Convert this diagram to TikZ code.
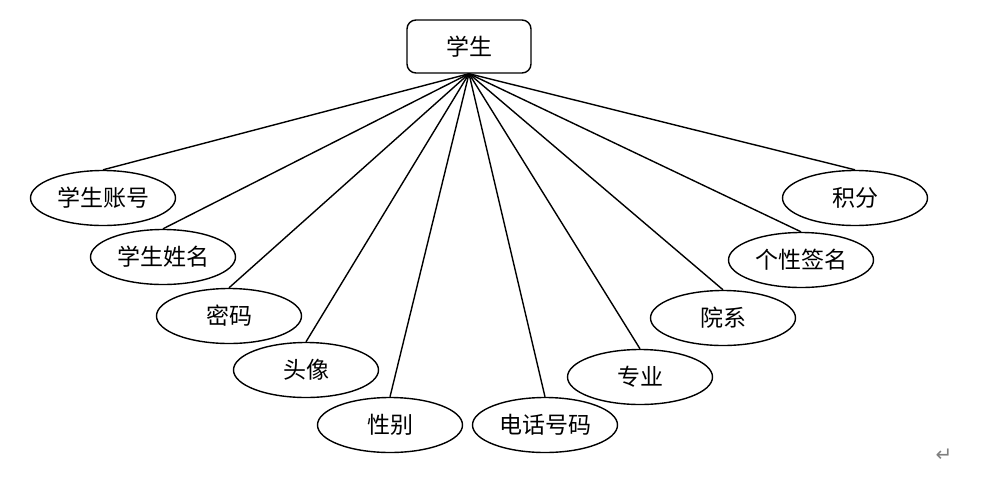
\documentclass[tikz,border=0pt]{standalone}
\usepackage{fontspec}
\newfontfamily\cjk{Noto Sans CJK SC}
\newfontfamily\symfont{DejaVu Sans}
\usetikzlibrary{shapes.geometric}
\begin{document}
\begin{tikzpicture}[x=1pt,y=-1pt,line width=1.4pt,
  entity/.style={draw,rounded corners=9pt,minimum width=124pt,minimum height=53pt,
    font=\cjk\fontsize{23}{23}\selectfont},
  attr/.style={draw,ellipse,minimum width=145pt,minimum height=55pt,inner sep=0pt,
    font=\cjk\fontsize{23}{23}\selectfont}]
  \useasboundingbox (0,0) rectangle (990,491);
  \node[entity] (stu) at (469,46.5) {学生};
  \foreach \name/\x/\y/\txt in {acc/103/198/学生账号, sname/163/257/学生姓名,
      pwd/229/316/密码, pic/306/370/头像, sex/390/425/性别, tel/545/425/电话号码,
      major/640/377/专业, dept/723/318/院系, sign/801/260/个性签名, score/855/198/积分}
  {
    \node[attr] (\name) at (\x,\y) {\txt};
    \draw (stu.south) -- (\name.north);
  }
  \node[text=gray,font=\symfont\fontsize{20}{20}\selectfont] (ret) at (944,455) {↵};
\end{tikzpicture}
\end{document}
